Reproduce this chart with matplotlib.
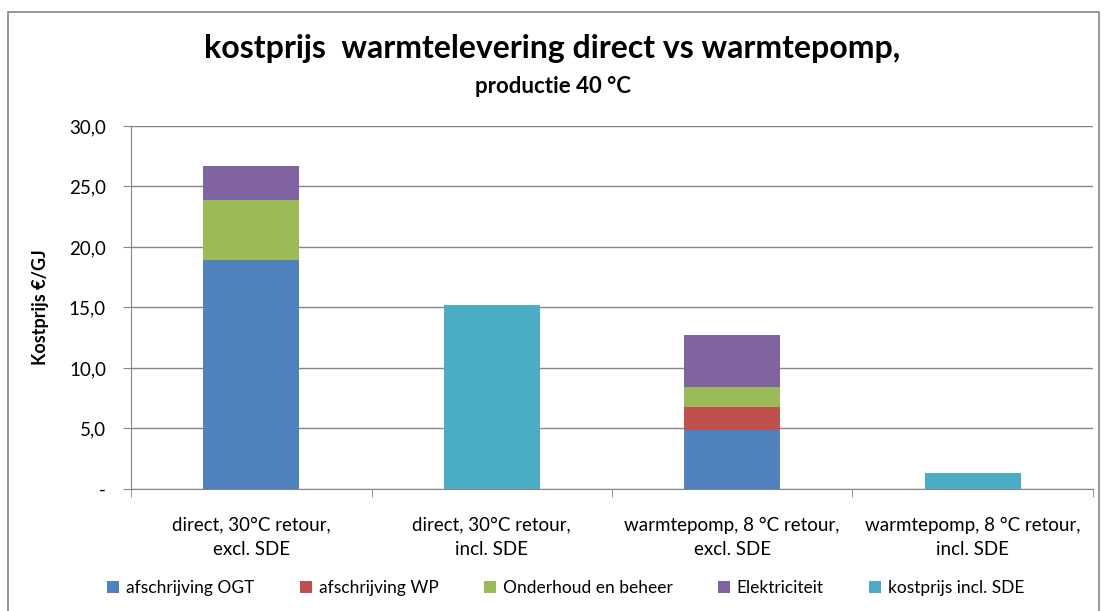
import numpy as np
import matplotlib.pyplot as plt
from matplotlib.patches import Rectangle
from matplotlib.ticker import FuncFormatter, FixedLocator

plt.rcParams['font.family'] = ['Lato', 'DejaVu Sans']

categories = ['direct, 30°C retour,\nexcl. SDE', 'direct, 30°C retour,\nincl. SDE',
              'warmtepomp, 8 °C retour,\nexcl. SDE', 'warmtepomp, 8 °C retour,\nincl. SDE']
series_names = ['afschrijving OGT', 'afschrijving WP', 'Onderhoud en beheer',
                'Elektriciteit', 'kostprijs incl. SDE']
afschrijving_ogt = [18.9, 0, 4.9, 0]
afschrijving_wp = [0, 0, 1.85, 0]
onderhoud = [5.0, 0, 1.7, 0]
elektriciteit = [2.8, 0, 4.25, 0]
kostprijs_sde = [0, 15.2, 0, 1.35]
colors = ['#4F81BD', '#C0504D', '#9BBB59', '#8064A2', '#4BACC6']

fig = plt.figure(figsize=(11.05, 6.11), dpi=100)
ax = fig.add_axes([0.1186, 0.1997, 0.8705, 0.5941])

x = np.arange(len(categories))
bottom = np.zeros(len(categories))
for name, vals, c in zip(series_names,
                         [afschrijving_ogt, afschrijving_wp, onderhoud, elektriciteit, kostprijs_sde],
                         colors):
    ax.bar(x, vals, 0.4, bottom=bottom, color=c, label=name, zorder=3)
    bottom += np.array(vals)

ax.set_xlim(-0.5, 3.5)
ax.set_ylim(0, 30)
ax.set_yticks(np.arange(0, 31, 5))
ax.yaxis.set_major_formatter(FuncFormatter(lambda v, p: '-' if v == 0 else f'{v:.1f}'.replace('.', ',')))
ax.grid(axis='y', color='#868686', linewidth=1, zorder=0)
ax.set_xticks(x)
ax.set_xticklabels(categories, fontsize=13.5, linespacing=1.5)
ax.xaxis.set_minor_locator(FixedLocator([-0.5, 0.5, 1.5, 2.5, 3.5]))
ax.tick_params(axis='x', which='major', length=0, pad=20)
ax.tick_params(axis='x', which='minor', length=6, color='#868686')
ax.tick_params(axis='y', length=6, color='#868686', labelsize=13.5, pad=12)
for s in ['top', 'right']:
    ax.spines[s].set_visible(False)
for s in ['left', 'bottom']:
    ax.spines[s].set_color('#868686')
ax.set_ylabel('Kostprijs €/GJ', fontsize=13, fontweight='bold', labelpad=14)

fig.text(0.5, 0.92, 'kostprijs  warmtelevering direct vs warmtepomp,', ha='center', va='center',
         fontsize=23, fontweight='bold')
fig.text(0.5, 0.859, 'productie 40 °C', ha='center', va='center', fontsize=16, fontweight='bold')

fig.legend(loc='center', bbox_to_anchor=(0.512, 0.038), ncol=5, frameon=False, fontsize=12.5,
           handlelength=0.7, handleheight=0.7, handletextpad=0.4, columnspacing=2.6)

fig.patches.append(Rectangle((0.007, -0.01), 0.988, 0.99, transform=fig.transFigure,
                             fill=False, edgecolor='#868686', linewidth=1.2))

fig.savefig('out.png', dpi=100)
